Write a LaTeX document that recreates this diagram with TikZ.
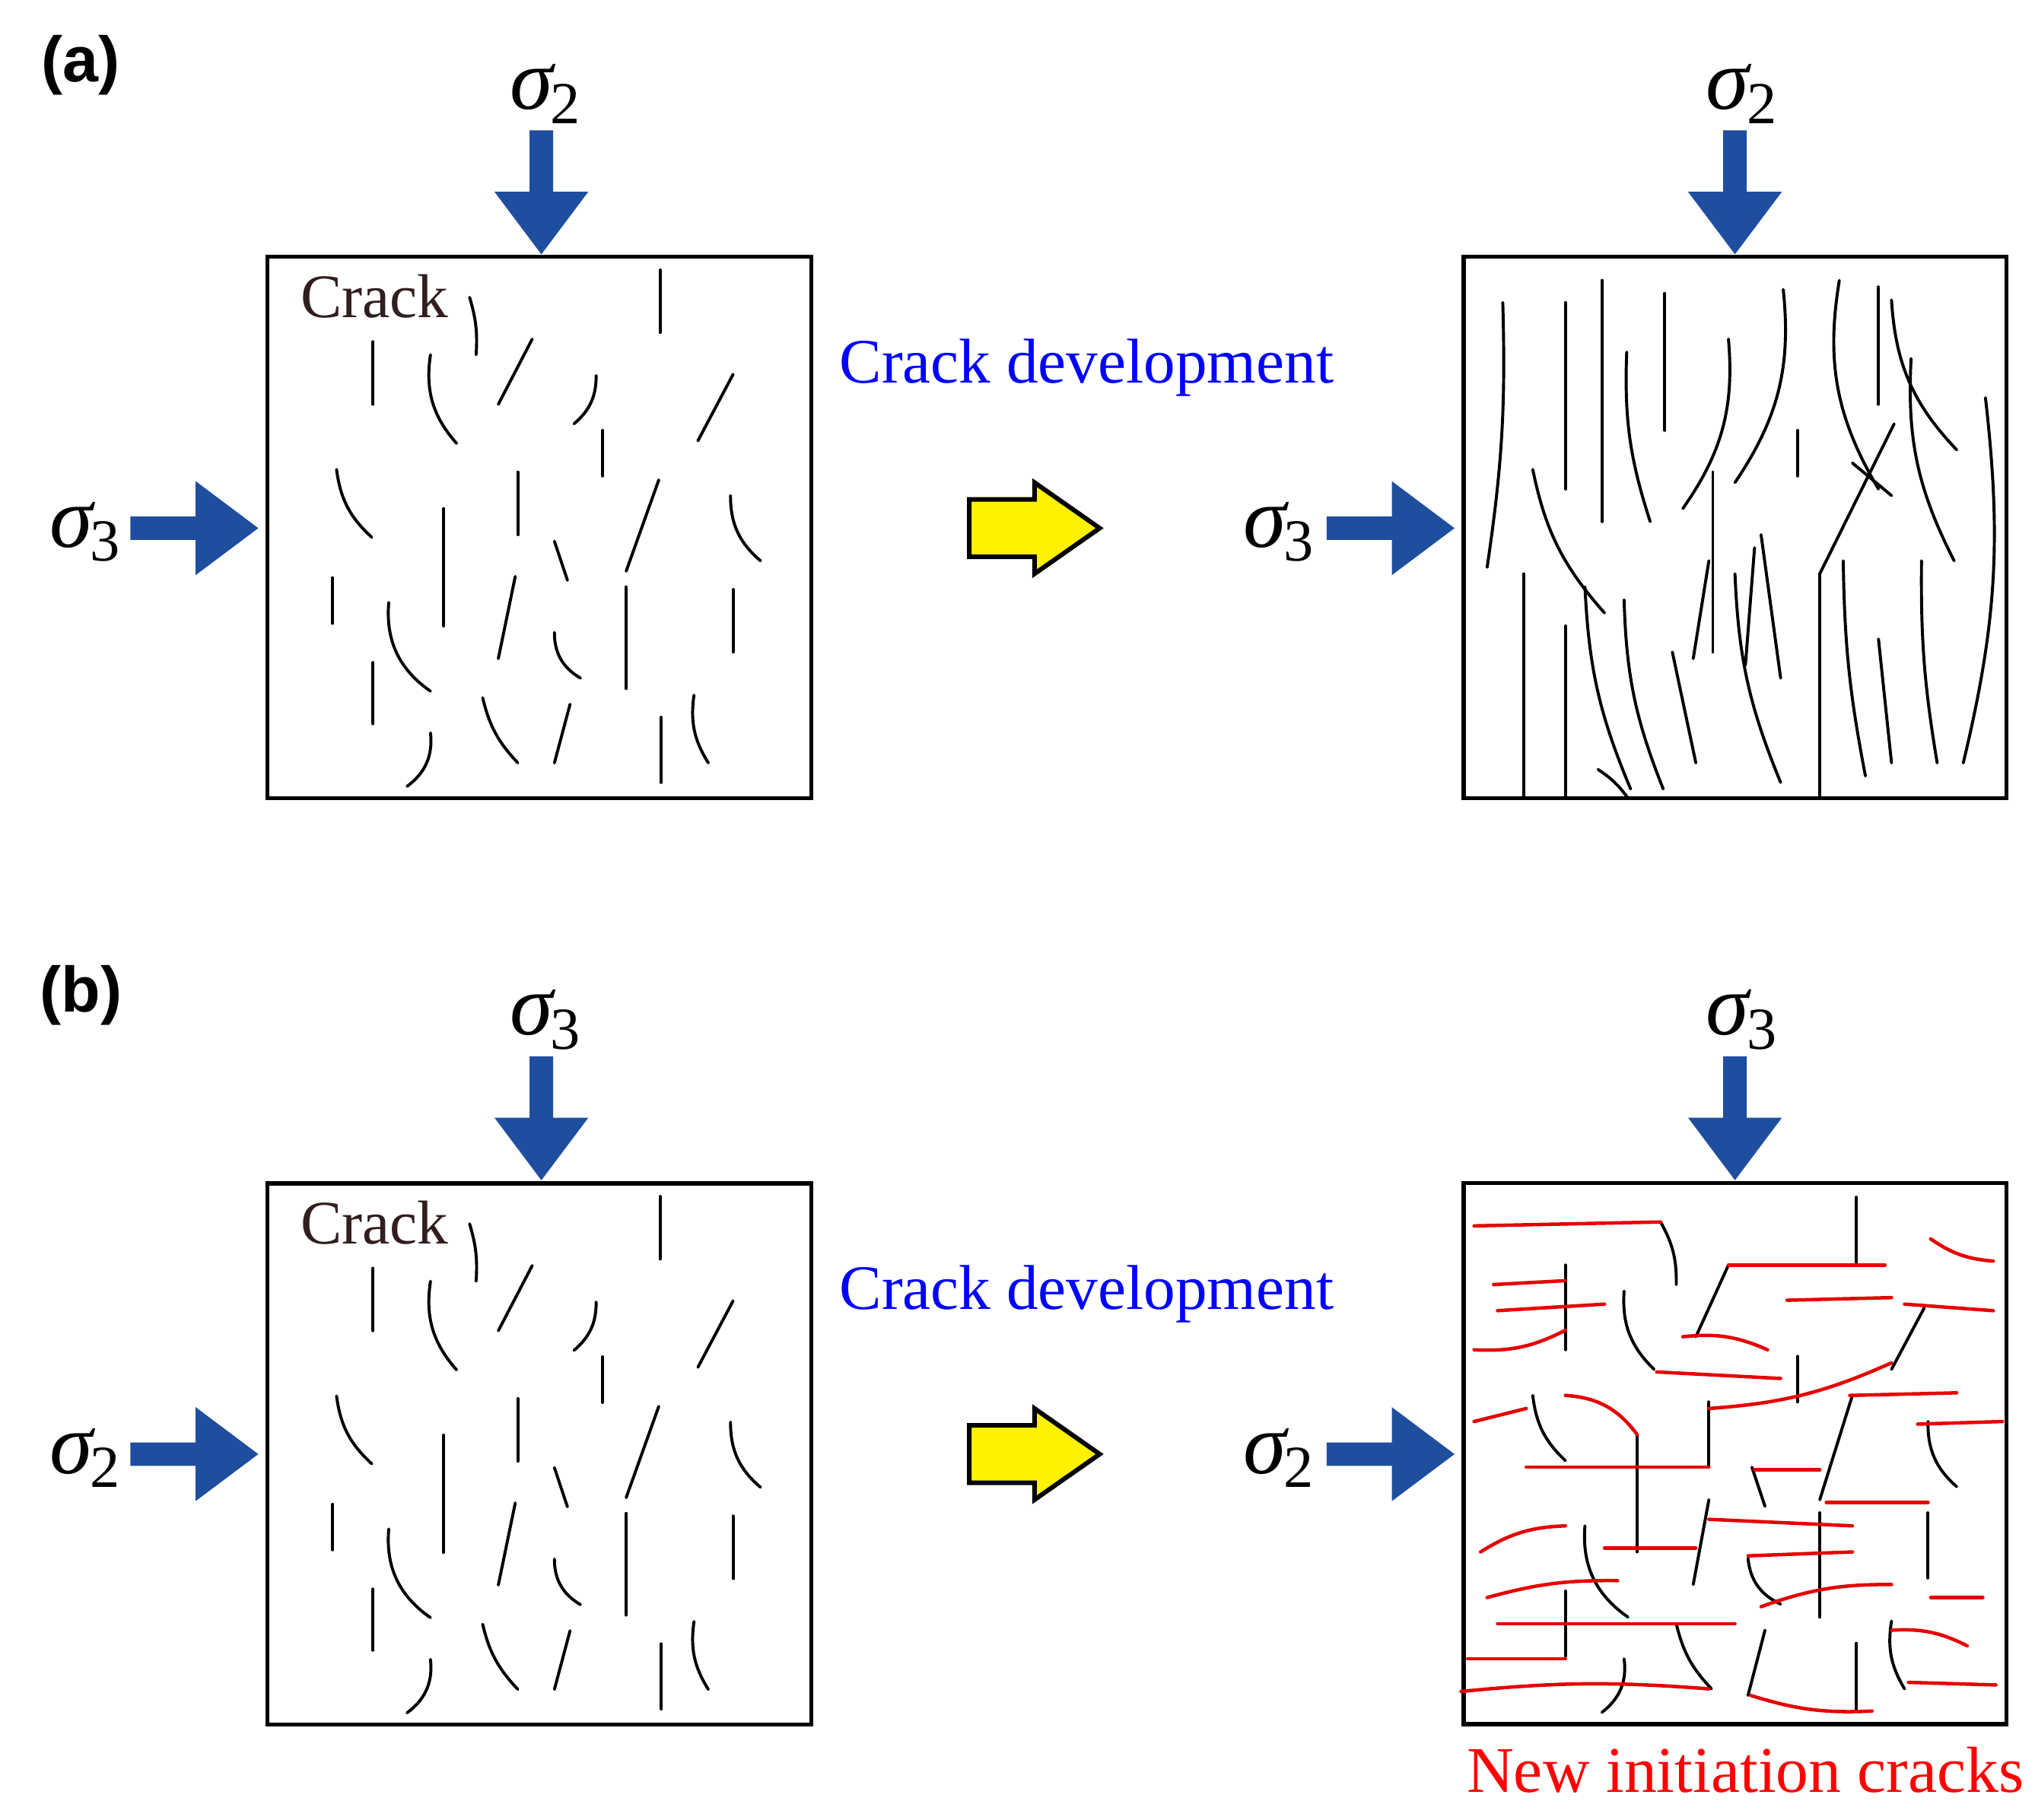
\documentclass[tikz,border=0pt]{standalone}
\usepackage{fontspec}
\setmainfont{Liberation Serif}
\newfontfamily\sansb{Liberation Sans}
\newcommand{\sg}[1]{{\itshape σ}\kern-0.5pt\raisebox{-0.35ex}{\fontsize{13}{13}\selectfont #1}}
\begin{document}
\begin{tikzpicture}[x=0.01cm,y=-0.01cm,
  box/.style={draw=black,line width=0.9pt},
  ck/.style={line width=0.65pt,line cap=round},
  rk/.style={draw=red!90!black,line width=0.75pt,line cap=round},
  sig/.style={font=\fontsize{19}{19}\selectfont},
  bl/.style={fill={rgb,255:red,31;green,78;blue,159}}]
\useasboundingbox (0,0) rectangle (1560,1395);
\def\downarr#1#2{\fill[bl] (#1-9,#2-95)--(#1+9,#2-95)--(#1+9,#2-48)--(#1+36,#2-48)--(#1,#2)--(#1-36,#2-48)--(#1-9,#2-48)--cycle;}
\def\rightarr#1#2{\fill[bl] (#1-98,#2-9)--(#1-48,#2-9)--(#1-48,#2-36)--(#1,#2)--(#1-48,#2+36)--(#1-48,#2+9)--(#1-98,#2+9)--cycle;}
\def\yarr#1#2{\draw[fill=yellow,line width=1pt] (#1,#2-22)--(#1+50,#2-22)--(#1+50,#2-35)--(#1+100,#2)--(#1+50,#2+35)--(#1+50,#2+22)--(#1,#2+22)--cycle;}
\def\initcracks{
\draw[ck] (360,228) to[bend left=10] (365,272);
\draw[ck] (506,207)--(506,255);
\draw[ck] (286,262)--(286,310);
\draw[ck] (330,272) to[bend right=25] (350,340);
\draw[ck] (408,260)--(382,310);
\draw[ck] (457,288) to[bend left=25] (440,325);
\draw[ck] (462,330)--(462,365);
\draw[ck] (562,287)--(535,338);
\draw[ck] (258,360) to[bend right=20] (285,412);
\draw[ck] (397,362)--(397,410);
\draw[ck] (340,390)--(340,480);
\draw[ck] (505,368)--(480,438);
\draw[ck] (560,380) to[bend right=25] (583,430);
\draw[ck] (425,415)--(435,445);
\draw[ck] (255,443)--(255,478);
\draw[ck] (298,462) to[bend right=30] (330,530);
\draw[ck] (395,442)--(382,505);
\draw[ck] (425,485) to[bend right=30] (445,520);
\draw[ck] (480,450)--(480,528);
\draw[ck] (562,452)--(562,500);
\draw[ck] (286,508)--(286,555);
\draw[ck] (370,535) to[bend right=15] (397,585);
\draw[ck] (437,540)--(425,585);
\draw[ck] (330,562) to[bend left=30] (312,603);
\draw[ck] (507,550)--(507,600);
\draw[ck] (532,533) to[bend right=20] (543,585);
\node[anchor=west,text={rgb,255:red,50;green,30;blue,30},font=\fontsize{13.5}{13.5}\selectfont] (crk) at (218,227) {Crack};}
% ---------- (a)
\node[font=\sansb\bfseries\fontsize{14}{14}\selectfont] (la) at (62,50) {(a)};
\draw[box] (205,197) rectangle (622,612);
\initcracks
\downarr{415}{195} \rightarr{198}{405}
\node[sig] (s2a) at (418,72) {\sg{2}};
\node[sig] (s3a) at (65,408) {\sg{3}};
\node[text=blue,font=\fontsize{13.8}{13.8}\selectfont] (cda) at (833,282) {Crack development};
\yarr{743}{405}
\draw[box] (1122,197) rectangle (1538,612);
\downarr{1330}{195} \rightarr{1115}{405}
\node[sig] (s2b) at (1335,72) {\sg{2}};
\node[sig] (s3b) at (980,408) {\sg{3}};
\draw[ck] (1152,232) to[bend left=5] (1140,435);
\draw[ck] (1200,232)--(1200,375);
\draw[ck] (1228,215)--(1228,400);
\draw[ck] (1247,270) to[bend right=10] (1265,400);
\draw[ck] (1276,225)--(1276,330);
\draw[ck] (1325,260) to[bend left=20] (1290,390);
\draw[ck] (1313,362)--(1313,500);
\draw[ck] (1367,222) to[bend left=20] (1330,370);
\draw[ck] (1378,330)--(1378,365);
\draw[ck] (1410,215) to[bend right=20] (1440,375);
\draw[ck] (1450,230) to[bend right=20] (1500,345);
\draw[ck] (1440,220)--(1440,310);
\draw[ck] (1465,275) to[bend right=15] (1498,430);
\draw[ck] (1522,305) to[bend left=10] (1505,585);
\draw[ck] (1452,325)--(1395,440);
\draw[ck] (1420,355)--(1450,380);
\draw[ck] (1175,360) to[bend right=15] (1230,470);
\draw[ck] (1168,440)--(1168,612);
\draw[ck] (1200,480)--(1200,612);
\draw[ck] (1215,450) to[bend right=10] (1250,605);
\draw[ck] (1225,590) to[bend left=10] (1248,612);
\draw[ck] (1245,460) to[bend right=10] (1275,605);
\draw[ck] (1310,430)--(1298,505);
\draw[ck] (1330,440) to[bend right=10] (1365,600);
\draw[ck] (1350,410)--(1365,520);
\draw[ck] (1345,420)--(1338,510);
\draw[ck] (1395,440)--(1395,610);
\draw[ck] (1413,430) to[bend right=5] (1430,595);
\draw[ck] (1440,490)--(1450,585);
\draw[ck] (1473,430) to[bend right=5] (1485,585);
\draw[ck] (1282,500)--(1300,585);
% ---------- (b)
\node[font=\sansb\bfseries\fontsize{14}{14}\selectfont] (lb) at (62,763) {(b)};
\begin{scope}[yshift=-7.1cm]
\draw[box] (205,197) rectangle (622,612);
\initcracks
\end{scope}
\downarr{415}{905} \rightarr{198}{1115}
\node[sig] (s3c) at (418,782) {\sg{3}};
\node[sig] (s2c) at (65,1118) {\sg{2}};
\node[text=blue,font=\fontsize{13.8}{13.8}\selectfont] (cdb) at (833,992) {Crack development};
\yarr{743}{1115}
\draw[box] (1122,907) rectangle (1538,1322);
\downarr{1330}{905} \rightarr{1115}{1115}
\node[sig] (s3d) at (1335,782) {\sg{3}};
\node[sig] (s2d) at (980,1118) {\sg{2}};
% black
\draw[ck] (1273,937) to[bend left=15] (1285,985);
\draw[ck] (1423,918)--(1423,968);
\draw[ck] (1200,970)--(1200,1035);
\draw[ck] (1245,990) to[bend right=25] (1268,1050);
\draw[ck] (1325,970)--(1300,1025);
\draw[ck] (1475,1003)--(1450,1050);
\draw[ck] (1378,1040)--(1378,1075);
\draw[ck] (1175,1070) to[bend right=20] (1200,1120);
\draw[ck] (1255,1100)--(1255,1190);
\draw[ck] (1310,1075)--(1310,1125);
\draw[ck] (1420,1070)--(1395,1150);
\draw[ck] (1478,1090) to[bend right=25] (1500,1140);
\draw[ck] (1343,1125)--(1353,1155);
\draw[ck] (1215,1170) to[bend right=30] (1248,1240);
\draw[ck] (1310,1150)--(1298,1215);
\draw[ck] (1340,1195) to[bend right=30] (1365,1230);
\draw[ck] (1395,1160)--(1395,1240);
\draw[ck] (1478,1160)--(1478,1210);
\draw[ck] (1200,1220)--(1200,1270);
\draw[ck] (1285,1245) to[bend right=15] (1312,1295);
\draw[ck] (1353,1250)--(1340,1300);
\draw[ck] (1245,1272) to[bend left=30] (1228,1313);
\draw[ck] (1423,1260)--(1423,1312);
\draw[ck] (1450,1243) to[bend right=20] (1460,1295);
% red
\draw[rk] (1130,940)--(1273,937);
\draw[rk] (1325,970)--(1445,970);
\draw[rk] (1480,950) to[bend right=15] (1528,967);
\draw[rk] (1145,985)--(1200,982);
\draw[rk] (1148,1005)--(1230,1000);
\draw[rk] (1130,1035) to[bend right=15] (1200,1020);
\draw[rk] (1290,1025) to[bend left=15] (1355,1035);
\draw[rk] (1370,997)--(1450,995);
\draw[rk] (1460,1000)--(1528,1005);
\draw[rk] (1270,1052)--(1365,1057);
\draw[rk] (1310,1080) to[bend right=10] (1450,1045);
\draw[rk] (1130,1090)--(1170,1080);
\draw[rk] (1200,1070) to[bend left=25] (1255,1100);
\draw[rk] (1418,1070)--(1500,1068);
\draw[rk] (1470,1092)--(1535,1090);
\draw[rk] (1170,1125)--(1310,1125);
\draw[rk] (1345,1127)--(1395,1127);
\draw[rk] (1400,1152)--(1478,1152);
\draw[rk] (1310,1165)--(1420,1170);
\draw[rk] (1135,1190) to[bend left=15] (1200,1170);
\draw[rk] (1230,1187)--(1300,1187);
\draw[rk] (1340,1193)--(1420,1190);
\draw[rk] (1140,1225) to[bend left=8] (1240,1212);
\draw[rk] (1350,1232) to[bend left=10] (1450,1215);
\draw[rk] (1480,1225)--(1520,1225);
\draw[rk] (1148,1245)--(1330,1245);
\draw[rk] (1450,1250) to[bend left=15] (1508,1262);
\draw[rk] (1125,1272)--(1200,1272);
\draw[rk] (1120,1297) to[bend left=5] (1310,1295);
\draw[rk] (1342,1300) to[bend right=10] (1435,1312);
\draw[rk] (1463,1290)--(1530,1292);
\node[text=red,font=\fontsize{14.2}{14.2}\selectfont] (nic) at (1338,1357) {New initiation cracks};
\end{tikzpicture}
\end{document}
